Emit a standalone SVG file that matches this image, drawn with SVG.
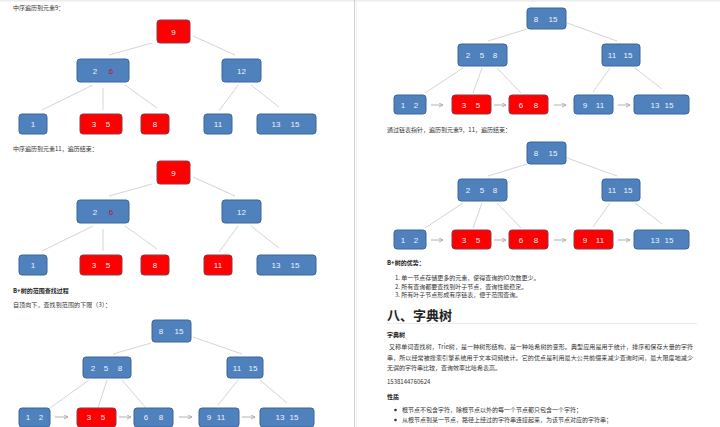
<svg xmlns="http://www.w3.org/2000/svg" width="720" height="427" viewBox="0 0 720 427">
<defs>
<marker id="ah" markerUnits="userSpaceOnUse" markerWidth="6" markerHeight="6" refX="4" refY="2" orient="auto">
<path d="M0,0 L4,2 L0,4" fill="none" stroke="#aaaaaa" stroke-width="0.9"/>
</marker>
<style>
.nb{fill:#4f81bd;stroke:#3b6799;stroke-width:1}
.nr{fill:#ff0000;stroke:#8a3b4a;stroke-width:1}
.nt{font-family:"Liberation Sans",Arial,sans-serif;font-size:8px;fill:#eef3fa;text-anchor:middle}
.r6{fill:#c8102e}
.ed{stroke:#cfcfcf;stroke-width:0.9;fill:none}
.ar{stroke:#aaaaaa;stroke-width:0.9;fill:none;marker-end:url(#ah)}
.tx{font-family:"Noto Sans CJK SC","Noto Sans",sans-serif;font-size:6px;fill:#333333}
.bd{font-weight:bold;fill:#222222}
.h2{font-family:"Noto Sans CJK SC","Noto Sans",sans-serif;font-size:13px;font-weight:bold;fill:#222222}
</style>
</defs>
<rect x="0" y="0" width="720" height="427" fill="#ffffff"/>
<rect x="0" y="0" width="720" height="1.5" fill="#ececec"/>
<line x1="354.5" y1="0" x2="354.5" y2="427" stroke="#cfcfcf" stroke-width="1"/>
<line x1="356.5" y1="0" x2="356.5" y2="427" stroke="#f0f0f0" stroke-width="1"/>

<!-- texts -->
<g id="texts">
<text class="tx" x="13" y="10">中序遍历到元素9：</text>
<text class="tx" x="13" y="151">中序遍历到元素11，遍历结束：</text>
<text class="tx bd" x="13" y="293">B+树的范围查找过程</text>
<text class="tx" x="13" y="307" textLength="98">自顶向下，查找到范围的下限（3）：</text>
<text class="tx" x="387" y="131.5">通过链表指针，遍历到元素9，11，遍历结束：</text>
<text class="tx bd" x="387" y="265">B+树的优势：</text>
<text class="tx" x="395" y="280.3">1. 单一节点存储更多的元素，使得查询的IO次数更少。</text>
<text class="tx" x="395" y="288.7">2. 所有查询都要查找到叶子节点，查询性能稳定。</text>
<text class="tx" x="395" y="297">3. 所有叶子节点形成有序链表，便于范围查询。</text>
<text class="h2" x="387" y="319.5">八、字典树</text>
<line x1="387" y1="323.5" x2="697" y2="323.5" stroke="#eaeaea" stroke-width="1"/>
<text class="tx bd" x="387" y="337">字典树</text>
<text class="tx" x="389" y="349" textLength="304">又称单词查找树，Trie树，是一种树形结构，是一种哈希树的变形。典型应用是用于统计，排序和保存大量的字符</text>
<text class="tx" x="387" y="360" textLength="306">串，所以经常被搜索引擎系统用于文本词频统计。它的优点是利用最大公共前缀来减少查询时间，最大限度地减少</text>
<text class="tx" x="387" y="370">无谓的字符串比较，查询效率比哈希表高。</text>
<text class="tx" x="387" y="384">1538144760624</text>
<text class="tx bd" x="387" y="399">性质</text>
<circle cx="395.5" cy="410" r="1.3" fill="#333333"/>
<text class="tx" x="402" y="412">根节点不包含字符，除根节点以外的每一个节点都只包含一个字符；</text>
<circle cx="395.5" cy="420" r="1.3" fill="#333333"/>
<text class="tx" x="402" y="422">从根节点到某一节点，路径上经过的字符串连接起来，为该节点对应的字符串；</text>
<circle cx="395.5" cy="430" r="1.3" fill="#333333"/>
<text class="tx" x="402" y="432">每个节点的所有子节点包含的字符都不相同。</text>
</g>

<!-- connectors -->
<g id="connectors">
<g id="c-t1">
<line class="ed" x1="152" y1="43" x2="109" y2="55"/>
<line class="ed" x1="193" y1="36" x2="235" y2="55"/>
<line class="ed" x1="93" y1="85" x2="42" y2="110"/>
<line class="ed" x1="103" y1="88" x2="103" y2="110"/>
<line class="ed" x1="125" y1="85" x2="157" y2="108"/>
<line class="ed" x1="238" y1="85" x2="219" y2="111"/>
<line class="ed" x1="251" y1="85" x2="279" y2="107"/>
</g>
<g id="c-t2" transform="translate(0,141)">
<line class="ed" x1="152" y1="43" x2="109" y2="55"/>
<line class="ed" x1="193" y1="36" x2="235" y2="55"/>
<line class="ed" x1="93" y1="85" x2="42" y2="110"/>
<line class="ed" x1="103" y1="88" x2="103" y2="110"/>
<line class="ed" x1="125" y1="85" x2="157" y2="108"/>
<line class="ed" x1="238" y1="85" x2="219" y2="111"/>
<line class="ed" x1="251" y1="85" x2="279" y2="107"/>
</g>
<g id="c-t3">
<line class="ed" x1="151" y1="343" x2="113" y2="354"/>
<line class="ed" x1="193" y1="337" x2="242" y2="354"/>
<line class="ed" x1="89" y1="380" x2="50" y2="408"/>
<line class="ed" x1="107" y1="380" x2="98" y2="408"/>
<line class="ed" x1="122" y1="380" x2="146" y2="408"/>
<line class="ed" x1="238" y1="380" x2="218" y2="405"/>
<line class="ed" x1="260" y1="380" x2="287" y2="403"/>
<line class="ar" x1="55" y1="417" x2="68" y2="417"/>
<line class="ar" x1="119" y1="417" x2="131" y2="417"/>
<line class="ar" x1="179" y1="417" x2="192" y2="417"/>
<line class="ar" x1="242" y1="417" x2="255" y2="417"/>
</g>
<g id="c-t4">
<line class="ed" x1="527" y1="29" x2="488" y2="41"/>
<line class="ed" x1="567" y1="23" x2="617" y2="41"/>
<line class="ed" x1="463" y1="68" x2="425" y2="93"/>
<line class="ed" x1="482" y1="68" x2="473" y2="93"/>
<line class="ed" x1="497" y1="68" x2="521" y2="93"/>
<line class="ed" x1="610" y1="68" x2="593" y2="92"/>
<line class="ed" x1="635" y1="68" x2="662" y2="89"/>
<line class="ar" x1="431" y1="105" x2="443" y2="105"/>
<line class="ar" x1="494" y1="105" x2="506" y2="105"/>
<line class="ar" x1="554" y1="105" x2="566" y2="105"/>
<line class="ar" x1="618" y1="105" x2="630" y2="105"/>
</g>
<g id="c-t5" transform="translate(0,135)">
<line class="ed" x1="527" y1="29" x2="488" y2="41"/>
<line class="ed" x1="567" y1="23" x2="617" y2="41"/>
<line class="ed" x1="463" y1="68" x2="425" y2="93"/>
<line class="ed" x1="482" y1="68" x2="473" y2="93"/>
<line class="ed" x1="497" y1="68" x2="521" y2="93"/>
<line class="ed" x1="610" y1="68" x2="593" y2="92"/>
<line class="ed" x1="635" y1="68" x2="662" y2="89"/>
<line class="ar" x1="431" y1="105" x2="443" y2="105"/>
<line class="ar" x1="494" y1="105" x2="506" y2="105"/>
<line class="ar" x1="554" y1="105" x2="566" y2="105"/>
<line class="ar" x1="618" y1="105" x2="630" y2="105"/>
</g>
</g>

<!-- tree 1 -->
<g id="tree1">
<g id="t1-n9"><rect class="nr" x="157" y="20" width="33" height="23" rx="3"/><text class="nt" x="173.5" y="34.5">9</text></g>
<g id="t1-n2-6"><rect class="nb" x="77" y="59" width="52" height="23" rx="3"/><text class="nt" x="95" y="73.5">2</text><text class="nt r6" x="111" y="73.5">6</text></g>
<g id="t1-n12"><rect class="nb" x="222" y="59" width="39" height="23" rx="3"/><text class="nt" x="241.5" y="73.5">12</text></g>
<g id="t1-n1"><rect class="nb" x="19" y="114" width="28" height="20" rx="3"/><text class="nt" x="33" y="127">1</text></g>
<g id="t1-n3-5"><rect class="nr" x="80" y="114" width="42" height="20" rx="3"/><text class="nt" x="94" y="127">3</text><text class="nt" x="108" y="127">5</text></g>
<g id="t1-n8"><rect class="nr" x="141" y="114" width="28" height="20" rx="3"/><text class="nt" x="155" y="127">8</text></g>
<g id="t1-n11"><rect class="nb" x="204" y="114" width="28" height="20" rx="3"/><text class="nt" x="218" y="127">11</text></g>
<g id="t1-n13-15"><rect class="nb" x="257" y="114" width="59" height="20" rx="3"/><text class="nt" x="276" y="127">13</text><text class="nt" x="295" y="127">15</text></g>
</g>

<!-- tree 2 -->
<g id="tree2" transform="translate(0,141)">
<g id="t2-n9"><rect class="nr" x="157" y="20" width="33" height="23" rx="3"/><text class="nt" x="173.5" y="34.5">9</text></g>
<g id="t2-n2-6"><rect class="nb" x="77" y="59" width="52" height="23" rx="3"/><text class="nt" x="95" y="73.5">2</text><text class="nt r6" x="111" y="73.5">6</text></g>
<g id="t2-n12"><rect class="nb" x="222" y="59" width="39" height="23" rx="3"/><text class="nt" x="241.5" y="73.5">12</text></g>
<g id="t2-n1"><rect class="nb" x="19" y="114" width="28" height="20" rx="3"/><text class="nt" x="33" y="127">1</text></g>
<g id="t2-n3-5"><rect class="nr" x="80" y="114" width="42" height="20" rx="3"/><text class="nt" x="94" y="127">3</text><text class="nt" x="108" y="127">5</text></g>
<g id="t2-n8"><rect class="nr" x="141" y="114" width="28" height="20" rx="3"/><text class="nt" x="155" y="127">8</text></g>
<g id="t2-n11"><rect class="nr" x="204" y="114" width="28" height="20" rx="3"/><text class="nt" x="218" y="127">11</text></g>
<g id="t2-n13-15"><rect class="nb" x="257" y="114" width="59" height="20" rx="3"/><text class="nt" x="276" y="127">13</text><text class="nt" x="295" y="127">15</text></g>
</g>

<!-- tree 3 -->
<g id="tree3">
<g id="t3-n8-15"><rect class="nb" x="152" y="320" width="39" height="22" rx="3"/><text class="nt" x="161" y="334">8</text><text class="nt" x="179" y="334">15</text></g>
<g id="t3-n2-5-8"><rect class="nb" x="83" y="357" width="48" height="21" rx="3"/><text class="nt" x="93" y="370.5">2</text><text class="nt" x="106" y="370.5">5</text><text class="nt" x="120" y="370.5">8</text></g>
<g id="t3-n11-15"><rect class="nb" x="227" y="357" width="36" height="21" rx="3"/><text class="nt" x="237" y="370.5">11</text><text class="nt" x="253" y="370.5">15</text></g>
<g id="t3-n1-2"><rect class="nb" x="19" y="408" width="31" height="19" rx="3"/><text class="nt" x="28" y="420">1</text><text class="nt" x="41" y="420">2</text></g>
<g id="t3-n3-5"><rect class="nr" x="77" y="408" width="39" height="19" rx="3"/><text class="nt" x="89" y="420">3</text><text class="nt" x="103" y="420">5</text></g>
<g id="t3-n6-8"><rect class="nb" x="134" y="408" width="39" height="19" rx="3"/><text class="nt" x="146" y="420">6</text><text class="nt" x="161" y="420">8</text></g>
<g id="t3-n9-11"><rect class="nb" x="199" y="408" width="40" height="19" rx="3"/><text class="nt" x="209" y="420">9</text><text class="nt" x="221" y="420">11</text></g>
<g id="t3-n13-15"><rect class="nb" x="260" y="408" width="54" height="19" rx="3"/><text class="nt" x="280" y="420">13</text><text class="nt" x="294" y="420">15</text></g>
</g>

<!-- tree 4 -->
<g id="tree4">
<g id="t4-n8-15"><rect class="nb" x="527" y="8" width="39" height="21" rx="3"/><text class="nt" x="536" y="21.5">8</text><text class="nt" x="553" y="21.5">15</text></g>
<g id="t4-n2-5-8"><rect class="nb" x="458" y="44" width="49" height="22" rx="3"/><text class="nt" x="468" y="58">2</text><text class="nt" x="482" y="58">5</text><text class="nt" x="495" y="58">8</text></g>
<g id="t4-n11-15"><rect class="nb" x="602" y="44" width="38" height="22" rx="3"/><text class="nt" x="612" y="58">11</text><text class="nt" x="628" y="58">15</text></g>
<g id="t4-n1-2"><rect class="nb" x="394" y="95" width="32" height="19" rx="3"/><text class="nt" x="403" y="107.5">1</text><text class="nt" x="416" y="107.5">2</text></g>
<g id="t4-n3-5"><rect class="nr" x="452" y="95" width="39" height="19" rx="3"/><text class="nt" x="464" y="107.5">3</text><text class="nt" x="478" y="107.5">5</text></g>
<g id="t4-n6-8"><rect class="nr" x="509" y="95" width="39" height="19" rx="3"/><text class="nt" x="521" y="107.5">6</text><text class="nt" x="536" y="107.5">8</text></g>
<g id="t4-n9-11"><rect class="nb" x="574" y="95" width="39" height="19" rx="3"/><text class="nt" x="585" y="107.5">9</text><text class="nt" x="600" y="107.5">11</text></g>
<g id="t4-n13-15"><rect class="nb" x="634" y="95" width="55" height="19" rx="3"/><text class="nt" x="655" y="107.5">13</text><text class="nt" x="669" y="107.5">15</text></g>
</g>

<!-- tree 5 -->
<g id="tree5" transform="translate(0,135)">
<g id="t5-n8-15"><rect class="nb" x="527" y="7" width="39" height="22" rx="3"/><text class="nt" x="536" y="21">8</text><text class="nt" x="553" y="21">15</text></g>
<g id="t5-n2-5-8"><rect class="nb" x="458" y="44" width="49" height="22" rx="3"/><text class="nt" x="468" y="58">2</text><text class="nt" x="482" y="58">5</text><text class="nt" x="495" y="58">8</text></g>
<g id="t5-n11-15"><rect class="nb" x="602" y="44" width="38" height="22" rx="3"/><text class="nt" x="612" y="58">11</text><text class="nt" x="628" y="58">15</text></g>
<g id="t5-n1-2"><rect class="nb" x="394" y="95" width="32" height="19" rx="3"/><text class="nt" x="403" y="107.5">1</text><text class="nt" x="416" y="107.5">2</text></g>
<g id="t5-n3-5"><rect class="nr" x="452" y="95" width="39" height="19" rx="3"/><text class="nt" x="464" y="107.5">3</text><text class="nt" x="478" y="107.5">5</text></g>
<g id="t5-n6-8"><rect class="nr" x="509" y="95" width="39" height="19" rx="3"/><text class="nt" x="521" y="107.5">6</text><text class="nt" x="536" y="107.5">8</text></g>
<g id="t5-n9-11"><rect class="nr" x="574" y="95" width="39" height="19" rx="3"/><text class="nt" x="585" y="107.5">9</text><text class="nt" x="600" y="107.5">11</text></g>
<g id="t5-n13-15"><rect class="nb" x="634" y="95" width="55" height="19" rx="3"/><text class="nt" x="655" y="107.5">13</text><text class="nt" x="669" y="107.5">15</text></g>
</g>
</svg>
